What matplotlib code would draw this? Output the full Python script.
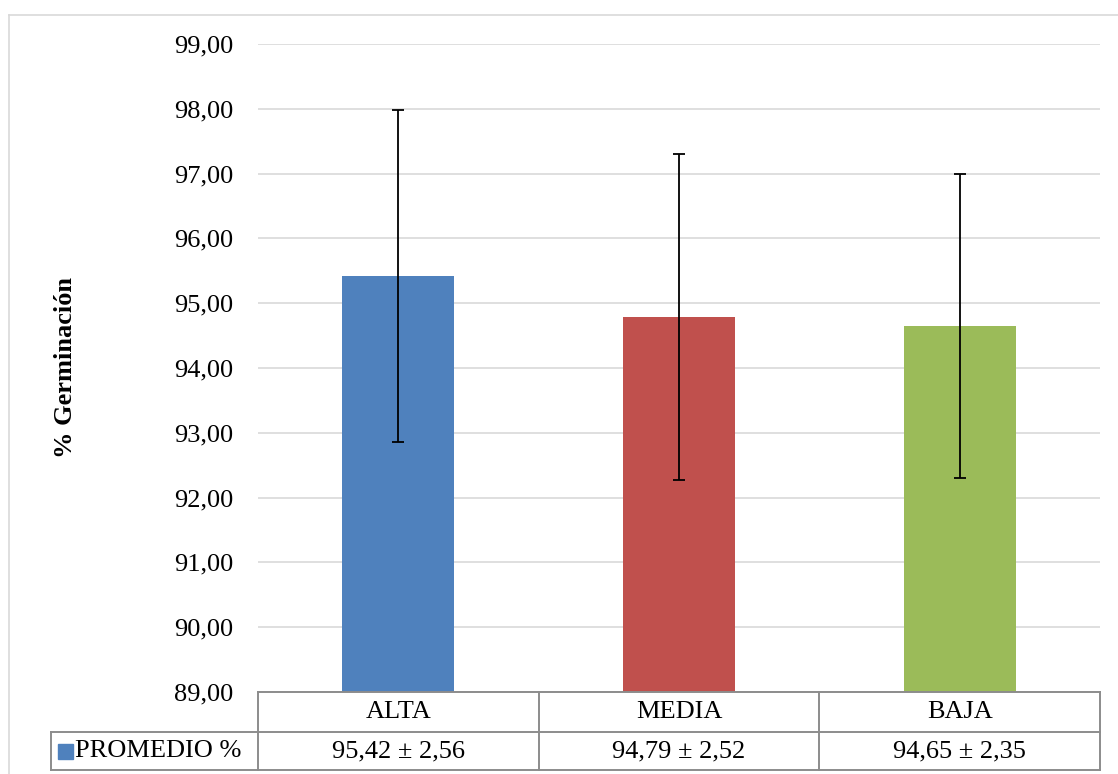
import matplotlib
matplotlib.use("Agg")
import matplotlib.pyplot as plt
from matplotlib.lines import Line2D
from matplotlib.patches import Rectangle
import matplotlib.transforms as mtransforms

plt.rcParams['font.family'] = ['Liberation Serif', 'DejaVu Serif']

categories = ["ALTA", "MEDIA", "BAJA"]
means = [95.42, 94.79, 94.65]
sds = [2.56, 2.52, 2.35]
series_name = "PROMEDIO %"
colors = ["#4F81BD", "#C0504D", "#9BBB59"]
yticks = [89, 90, 91, 92, 93, 94, 95, 96, 97, 98, 99]

W, H = 1118, 774
FS = 19
fig = plt.figure(figsize=(W / 100, H / 100), dpi=100)

# outer chart border
fig.add_artist(Line2D([9 / W, 9 / W], [0, 1 - 15 / H], color="#D9D9D9", lw=1.2, transform=fig.transFigure))
fig.add_artist(Line2D([9 / W, 1], [1 - 15 / H, 1 - 15 / H], color="#D9D9D9", lw=1.2, transform=fig.transFigure))

left, right, bottom, top = 258 / W, 1100 / W, 1 - 692 / H, 1 - 44 / H
ax = fig.add_axes([left, bottom, right - left, top - bottom])

x = list(range(len(categories)))
ax.bar(x, [m - yticks[0] for m in means], bottom=yticks[0], width=0.4, color=colors, zorder=2)
ax.errorbar(x, means, yerr=sds, fmt='none', ecolor='black', elinewidth=1.3, capsize=4.5, capthick=1.3, zorder=3)

ax.set_xlim(-0.5, len(categories) - 0.5)
ax.set_ylim(yticks[0], yticks[-1])
ax.set_yticks(yticks)
ax.set_yticklabels([f"{v:.2f}".replace('.', ',') for v in yticks], fontsize=FS)
ax.tick_params(axis='y', length=0, pad=18)
ax.set_xticks([])
ax.yaxis.grid(True, color="#D9D9D9", lw=1.2, zorder=0)
for s in ax.spines.values():
    s.set_visible(False)

fig.text(66 / W, 1 - 368 / H, "% Germinación", rotation=90, ha='center', va='center',
         fontsize=19, fontweight='bold')

# data table
tr = mtransforms.blended_transform_factory(ax.transData, ax.transAxes)
lc = "#8C8C8C"
lw = 1.4
plot_h = 692 - 44
r1 = -(732 - 692) / plot_h
r2 = -(770 - 692) / plot_h
x0 = -0.5
x1 = len(categories) - 0.5
colpx = (1100 - 258) / len(categories)
xleg = -0.5 - (258 - 51) / colpx

def hline(xa, xb, y):
    ax.add_line(Line2D([xa, xb], [y, y], color=lc, lw=lw, transform=tr, clip_on=False))

def vline(xv, ya, yb):
    ax.add_line(Line2D([xv, xv], [ya, yb], color=lc, lw=lw, transform=tr, clip_on=False))

hline(x0, x1, 0)
hline(xleg, x1, r1)
hline(xleg, x1, r2)
for i in range(len(categories) + 1):
    vline(i - 0.5, 0, r2)
vline(xleg, r1, r2)

for i, (c, m, s) in enumerate(zip(categories, means, sds)):
    ax.text(i, r1 / 2, c, transform=tr, ha='center', va='center', fontsize=FS, clip_on=False)
    lab = f"{m:.2f} ± {s:.2f}".replace('.', ',')
    ax.text(i, (r1 + r2) / 2, lab, transform=tr, ha='center', va='center', fontsize=FS, clip_on=False)

# legend key in table
sq_x = xleg + 7 / colpx
sq_w = 15 / colpx
sq_h = 15 / plot_h
ax.add_patch(Rectangle((sq_x, (r1 + r2) / 2 - sq_h / 2), sq_w, sq_h, color=colors[0],
                       transform=tr, clip_on=False))
ax.text(sq_x + sq_w + 2 / colpx, (r1 + r2) / 2, series_name,
        transform=tr, ha='left', va='center', fontsize=FS, clip_on=False)

fig.savefig("out.png", dpi=100)
